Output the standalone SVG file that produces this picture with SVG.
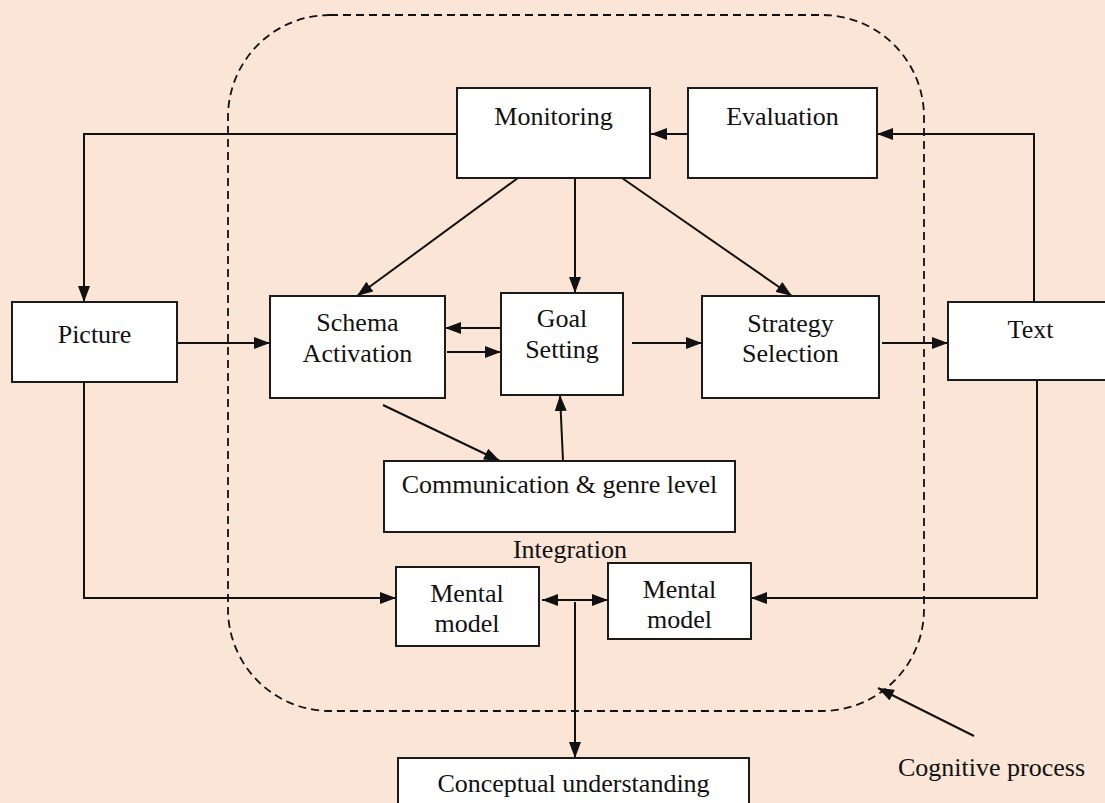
<svg xmlns="http://www.w3.org/2000/svg" width="1105" height="803" viewBox="0 0 1105 803">
<defs>
<style>
.box{fill:#ffffff;stroke:#1a1a1a;stroke-width:2}
.t{font-family:"Liberation Serif","Times New Roman",serif;font-size:26px;fill:#111;text-anchor:middle}
.c{fill:none;stroke:#111;stroke-width:2}
.dash{fill:none;stroke:#111;stroke-width:1.8;stroke-dasharray:8 5}
</style>
<marker id="ah" viewBox="0 0 16 12" refX="16" refY="6" markerWidth="16" markerHeight="12" markerUnits="userSpaceOnUse" orient="auto">
<path d="M0,0 L16,6 L0,12 z" fill="#111"/>
</marker>
<marker id="ahs" viewBox="0 0 16 12" refX="0" refY="6" markerWidth="16" markerHeight="12" markerUnits="userSpaceOnUse" orient="auto">
<path d="M16,0 L0,6 L16,12 z" fill="#111"/>
</marker>
</defs>
<rect x="0" y="0" width="1105" height="803" fill="#FBE5D6"/>

<g id="cognitive-boundary">
<rect class="dash" x="228" y="15" width="696" height="696" rx="102" ry="102"/>
</g>

<g id="connectors">
<!-- Evaluation -> Monitoring -->
<path class="c" d="M688,134 L651,134" marker-end="url(#ah)"/>
<!-- Text -> Evaluation -->
<path class="c" d="M1034,302 L1034,134 L877,134" marker-end="url(#ah)"/>
<!-- Monitoring -> Picture -->
<path class="c" d="M457,134 L84,134 L84,302" marker-end="url(#ah)"/>
<!-- Picture -> Schema -->
<path class="c" d="M177,343 L270,343" marker-end="url(#ah)"/>
<!-- Monitoring -> Schema -->
<path class="c" d="M518,178 L357,296" marker-end="url(#ah)"/>
<!-- Monitoring -> Goal -->
<path class="c" d="M575,178 L575,293" marker-end="url(#ah)"/>
<!-- Monitoring -> Strategy -->
<path class="c" d="M622,178 L792,296" marker-end="url(#ah)"/>
<!-- Goal -> Schema -->
<path class="c" d="M501,328 L445,328" marker-end="url(#ah)"/>
<!-- Schema -> Goal -->
<path class="c" d="M447,352 L501,352" marker-end="url(#ah)"/>
<!-- Goal -> Strategy -->
<path class="c" d="M632,343 L702,343" marker-end="url(#ah)"/>
<!-- Strategy -> Text -->
<path class="c" d="M882,343 L948,343" marker-end="url(#ah)"/>
<!-- Schema -> Communication -->
<path class="c" d="M383,405 L500,461" marker-end="url(#ah)"/>
<!-- Communication -> Goal -->
<path class="c" d="M563,461 L560,395" marker-end="url(#ah)"/>
<!-- Picture -> Mental model 1 -->
<path class="c" d="M84,382 L84,598 L396,598" marker-end="url(#ah)"/>
<!-- Text -> Mental model 2 -->
<path class="c" d="M1037,380 L1037,598 L751,598" marker-end="url(#ah)"/>
<!-- Mental model <-> Mental model -->
<path class="c" d="M542,600 L608,600" marker-start="url(#ahs)" marker-end="url(#ah)"/>
<!-- Integration -> Conceptual understanding -->
<path class="c" d="M575,602 L575,758" marker-end="url(#ah)"/>
<!-- Cognitive process pointer -->
<path class="c" d="M974,736 L878,688" marker-end="url(#ah)"/>
</g>

<g id="monitoring">
<rect class="box" x="457" y="88" width="193" height="90"/>
<text class="t" x="553.5" y="125">Monitoring</text>
</g>
<g id="evaluation">
<rect class="box" x="688" y="88" width="189" height="90"/>
<text class="t" x="782.5" y="125">Evaluation</text>
</g>
<g id="picture">
<rect class="box" x="12" y="302" width="165" height="80"/>
<text class="t" x="94.5" y="343">Picture</text>
</g>
<g id="schema-activation">
<rect class="box" x="270" y="296" width="175" height="102"/>
<text class="t" x="357.5" y="331">Schema</text>
<text class="t" x="357.5" y="362">Activation</text>
</g>
<g id="goal-setting">
<rect class="box" x="501" y="293" width="122" height="102"/>
<text class="t" x="562" y="327">Goal</text>
<text class="t" x="562" y="358">Setting</text>
</g>
<g id="strategy-selection">
<rect class="box" x="702" y="296" width="177" height="102"/>
<text class="t" x="790.5" y="332">Strategy</text>
<text class="t" x="790.5" y="362">Selection</text>
</g>
<g id="text-node">
<rect class="box" x="948" y="302" width="170" height="78"/>
<text class="t" x="1030.5" y="338">Text</text>
</g>
<g id="communication">
<rect class="box" x="384" y="461" width="351" height="71"/>
<text class="t" x="559.5" y="493">Communication &amp; genre level</text>
</g>
<g id="integration-label">
<text class="t" x="570" y="558">Integration</text>
</g>
<g id="mental-model-1">
<rect class="box" x="396" y="567" width="143" height="79"/>
<text class="t" x="467" y="602">Mental</text>
<text class="t" x="467" y="632">model</text>
</g>
<g id="mental-model-2">
<rect class="box" x="608" y="563" width="143" height="76"/>
<text class="t" x="679.5" y="598">Mental</text>
<text class="t" x="679.5" y="628">model</text>
</g>
<g id="conceptual-understanding">
<rect class="box" x="398" y="758" width="351" height="60"/>
<text class="t" x="573.5" y="792">Conceptual understanding</text>
</g>
<g id="cognitive-process-label">
<text class="t" x="991.5" y="776">Cognitive process</text>
</g>
</svg>
